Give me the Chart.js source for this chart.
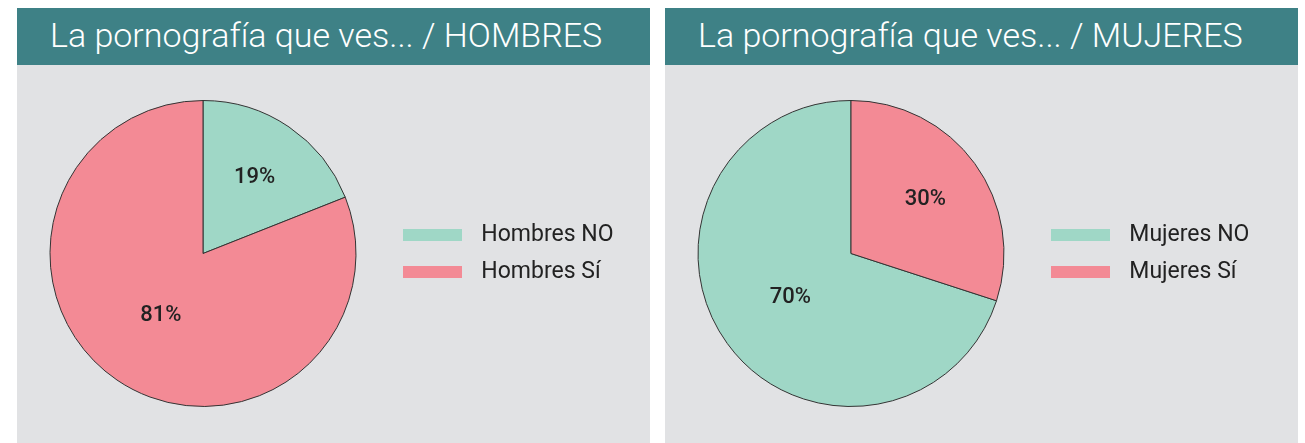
<!DOCTYPE html>
<html>
<head>
<meta charset="utf-8">
<script src="https://cdn.jsdelivr.net/npm/chart.js@4"></script>
<style>
    body { margin: 0; background: #ffffff; font-family: Roboto, sans-serif; }
    .panel { position: absolute; top: 8px; width: 633px; height: 435px; }
    .title {
        height: 57px;
        background: #3e8186;
        color: #ffffff;
        font-size: 34px;
        font-weight: 300;
        line-height: 54px;
        padding-left: 33px;
        white-space: nowrap;
    }
    .body { height: 378px; background: #e1e2e4; }
    canvas { display: block; }
</style>
</head>
<body>
<div class="panel" style="left: 17px;">
    <div class="title">La pornografía que ves... / HOMBRES</div>
    <div class="body"><canvas id="menChart" width="633" height="378"></canvas></div>
</div>
<div class="panel" style="left: 665px;">
    <div class="title">La pornografía que ves... / MUJERES</div>
    <div class="body"><canvas id="womenChart" width="633" height="378"></canvas></div>
</div>
<script>
const menLabels = ['Hombres NO', 'Hombres Sí'];
const menValues = [19, 81];
const womenLabels = ['Mujeres NO', 'Mujeres Sí'];
const womenValues = [70, 30];
const sliceColors = ['#9fd7c6', '#f38a95'];

const canvasWidth = 633;
const plotRight = 368;       // right edge of the pie area inside the canvas
const legendFontSize = 23;
const legendBoxWidth = 59;
const legendPadding = 14;
const labelGap = '\u2004';   // a bit more room between swatch and text

// percentages drawn inside the slices
const percentLabels = {
    id: 'percentLabels',
    afterDatasetsDraw(chart) {
        const ctx = chart.ctx;
        const meta = chart.getDatasetMeta(0);
        const values = chart.data.datasets[0].data;
        const total = values.reduce((a, b) => a + b, 0);
        ctx.save();
        ctx.font = '500 22px Roboto';
        ctx.fillStyle = '#222222';
        ctx.textAlign = 'center';
        ctx.textBaseline = 'middle';
        meta.data.forEach((arc, i) => {
            const p = arc.getProps(['x', 'y', 'startAngle', 'endAngle', 'outerRadius'], true);
            const share = values[i] / total;
            const mid = (p.startAngle + p.endAngle) / 2;
            const dist = p.outerRadius * (share < 0.5 ? 0.6 : 0.49);
            ctx.fillText(Math.round(share * 100) + '%', p.x + Math.cos(mid) * dist, p.y + Math.sin(mid) * dist);
        });
        ctx.restore();
    }
};

// keep the pie at the same place whatever the legend text length
function rightPadding(labels) {
    const ctx = document.createElement('canvas').getContext('2d');
    ctx.font = legendFontSize + 'px Roboto';
    const textWidth = Math.max(...labels.map(l => ctx.measureText(labelGap + l).width));
    const legendWidth = legendBoxWidth + legendFontSize / 2 + textWidth + 2 * legendPadding;
    return Math.max(0, canvasWidth - plotRight - legendWidth);
}

function makePie(canvasId, labels, values, rotation) {
    return new Chart(canvasId, {
        type: 'pie',
        data: {
            labels: labels,
            datasets: [{
                data: values,
                backgroundColor: sliceColors,
                borderColor: '#333333',
                borderWidth: 1
            }]
        },
        options: {
            responsive: false,
            animation: false,
            events: [],
            rotation: rotation,
            layout: {
                padding: { top: 35, bottom: 36, left: 0, right: rightPadding(labels) }
            },
            plugins: {
                legend: {
                    position: 'right',
                    labels: {
                        boxWidth: legendBoxWidth,
                        boxHeight: 12,
                        padding: legendPadding,
                        color: '#222222',
                        font: { family: 'Roboto', size: legendFontSize },
                        generateLabels(chart) {
                            const items = Chart.overrides.pie.plugins.legend.labels.generateLabels(chart);
                            items.forEach(item => {
                                item.text = labelGap + item.text;
                                item.lineWidth = 0;
                            });
                            return items;
                        }
                    }
                },
                tooltip: { enabled: false }
            }
        },
        plugins: [percentLabels]
    });
}

makePie('menChart', menLabels, menValues, 0);
makePie('womenChart', womenLabels, womenValues, womenValues[1] / (womenValues[0] + womenValues[1]) * 360);
</script>
</body>
</html>
